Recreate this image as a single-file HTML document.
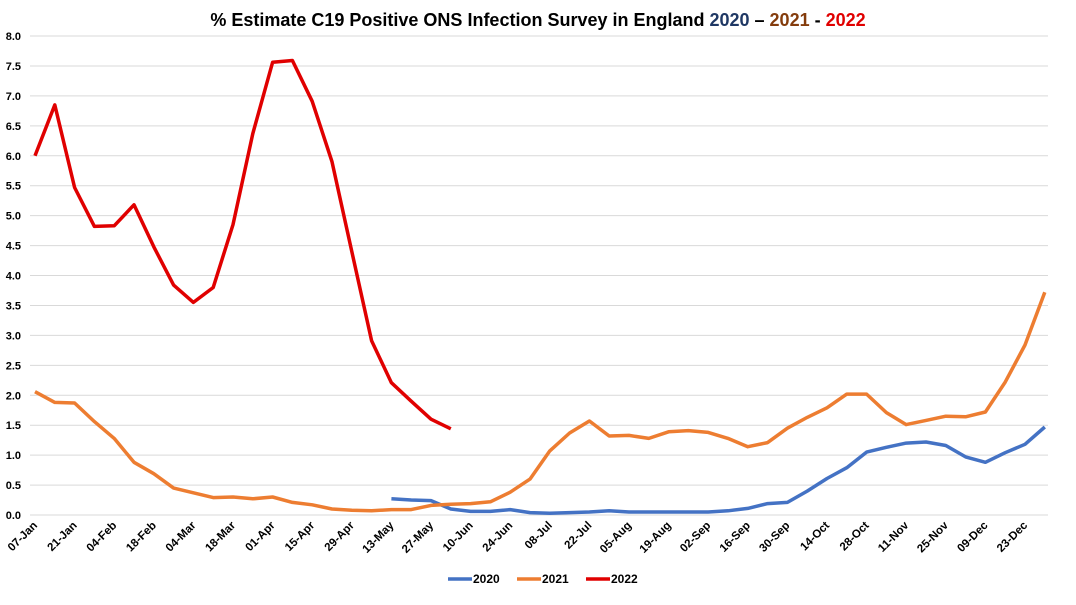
<!DOCTYPE html><html><head><style>body{margin:0;background:#fff}</style></head><body>
<svg id="s" width="1076" height="600" xmlns="http://www.w3.org/2000/svg" font-family="Liberation Sans, sans-serif"></svg>
<script>
const s=document.getElementById('s');let h='';
const X=i=>35+i*19.8, Y=v=>515-v*59.875;
h+='<text x="538" y="26" text-anchor="middle" font-size="18" font-weight="bold" fill="#000">% Estimate C19 Positive ONS Infection Survey in England <tspan fill="#1f3864">2020</tspan> – <tspan fill="#843c0c">2021</tspan> - <tspan fill="#e00000">2022</tspan></text>';
for(let k=0;k<=16;k++){const y=Y(k*0.5);h+=`<line x1="30" x2="1048" y1="${y}" y2="${y}" stroke="#d9d9d9"/><text x="21" y="${y+4}" text-anchor="end" font-size="11" font-weight="bold">${(k*0.5).toFixed(1)}</text>`;}
const labs=["07-Jan","21-Jan","04-Feb","18-Feb","04-Mar","18-Mar","01-Apr","15-Apr","29-Apr","13-May","27-May","10-Jun","24-Jun","08-Jul","22-Jul","05-Aug","19-Aug","02-Sep","16-Sep","30-Sep","14-Oct","28-Oct","11-Nov","25-Nov","09-Dec","23-Dec"];
labs.forEach((l,j)=>{const x=X(j*2)+3,y=526;h+=`<text transform="translate(${x},${y}) rotate(-45)" text-anchor="end" font-size="11.5" font-weight="bold">${l}</text>`;});
const red=[6.0,6.85,5.47,4.82,4.83,5.18,4.48,3.84,3.55,3.80,4.85,6.37,7.56,7.59,6.91,5.90,4.40,2.91,2.21,1.90,1.60,1.44];
const org=[2.06,1.88,1.87,1.56,1.28,0.88,0.69,0.45,0.37,0.29,0.30,0.27,0.30,0.21,0.17,0.10,0.08,0.07,0.09,0.09,0.16,0.18,0.19,0.22,0.38,0.60,1.07,1.37,1.57,1.32,1.33,1.28,1.39,1.41,1.38,1.28,1.14,1.21,1.45,1.63,1.79,2.02,2.02,1.71,1.51,1.58,1.65,1.64,1.72,2.22,2.84,3.72];
const blu=[0.27,0.25,0.24,0.10,0.06,0.06,0.09,0.04,0.03,0.04,0.05,0.07,0.05,0.05,0.05,0.05,0.05,0.07,0.11,0.19,0.21,0.40,0.61,0.79,1.05,1.13,1.20,1.22,1.16,0.97,0.88,1.04,1.18,1.47];
const pl=(d,o,c)=>`<polyline fill="none" stroke="${c}" stroke-width="3.5" stroke-linejoin="round" points="${d.map((v,i)=>X(i+o).toFixed(1)+','+Y(v).toFixed(1)).join(' ')}"/>`;
h+=pl(blu,18,'#4472c4')+pl(org,0,'#ed7d31')+pl(red,0,'#e00000');
[[448,'#4472c4','2020'],[540,'#ed7d31','2021'],[584,'#e00000','2022']].forEach(([x,c,t],i)=>{x=448+i*69;h+=`<line x1="${x}" x2="${x+24}" y1="579" y2="579" stroke="${c}" stroke-width="3.5"/><text x="${x+25}" y="583" font-size="12" font-weight="bold">${t}</text>`;});
s.innerHTML=h;
</script></body></html>
